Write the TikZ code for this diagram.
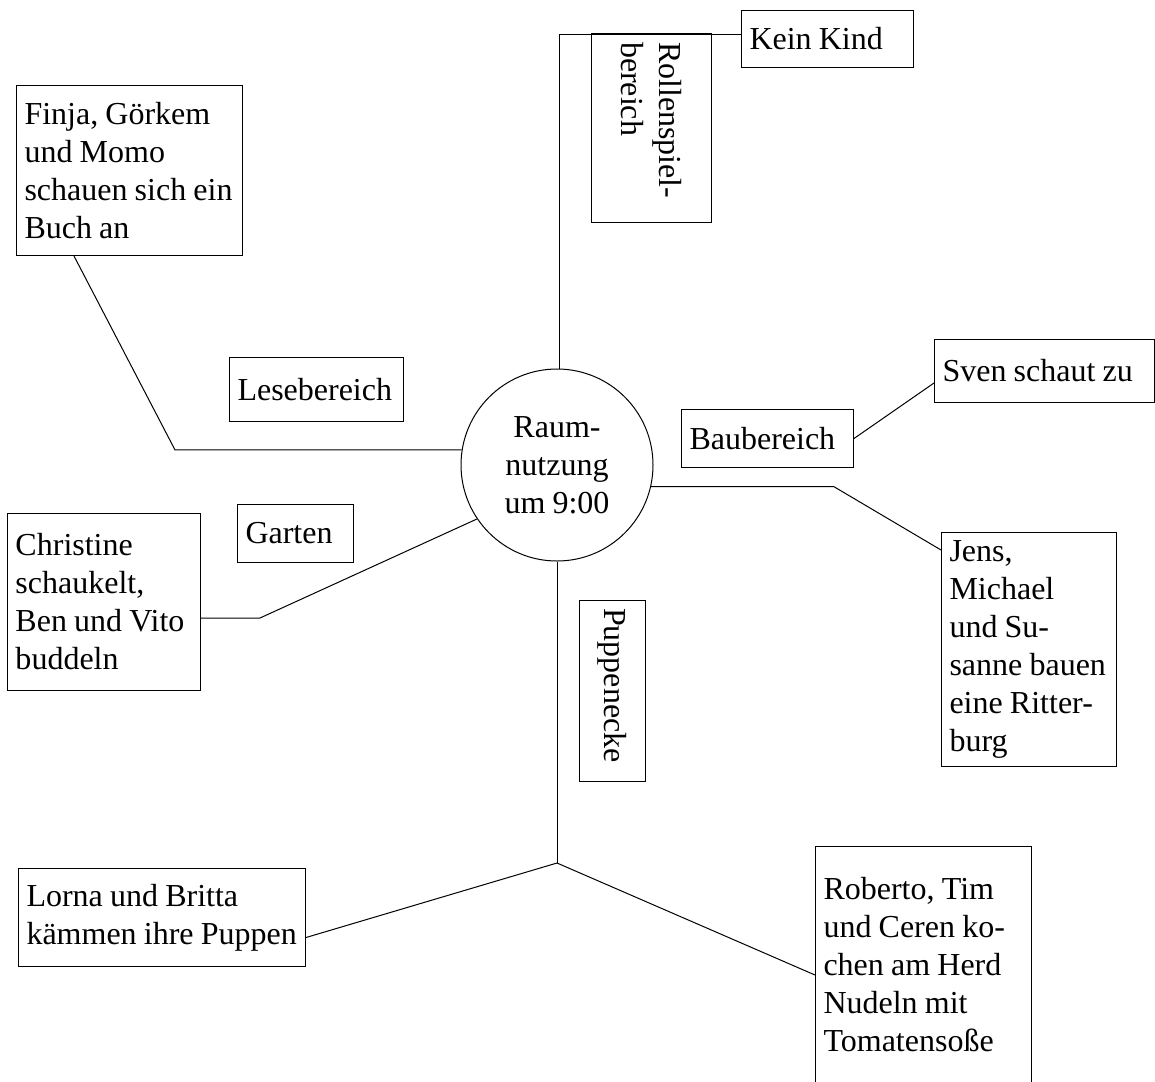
\documentclass[tikz,border=0pt]{standalone}
\usepackage{fontspec}
\setmainfont{Liberation Serif}
\newcommand{\ol}[1]{\mbox{#1}}
\newcommand{\narrowsp}{\spaceskip=7.2pt plus 2pt minus 1pt\relax}
\tikzset{
  txt/.style={font=\fontsize{32}{38}\selectfont, execute at begin node=\narrowsp},
  box/.style={txt, draw, line width=1pt, inner xsep=8pt, inner ysep=0pt, align=left, anchor=north west},
  rbox/.style={txt, draw, line width=1pt, inner xsep=8pt, inner ysep=0pt, align=left, rotate=-90},
  hub/.style={txt, draw, line width=1pt, circle, minimum size=192pt, inner sep=0pt, align=center},
  conn/.style={line width=1pt},
}
\begin{document}
\begin{tikzpicture}[x=1pt,y=-1pt]
\path[use as bounding box, fill=white] (0,0) rectangle (1155,1081);

\node[hub] (c) at (557,465) {Raum-\\nutzung\\um 9:00};

\node[box, text width=156pt, minimum height=57pt] (kk) at (741,10) {\ol{Kein Kind}};
\node[rbox, text width=172pt, minimum height=120pt] (rol) at (651,128) {\ol{Rollenspiel-}\\\ol{bereich}};
\node[box, text width=210pt, minimum height=170pt] (fin) at (16,85) {\ol{Finja, Görkem}\\\ol{und Momo}\\\ol{schauen sich ein}\\\ol{Buch an}};
\node[box, text width=158pt, minimum height=64pt] (les) at (229,357) {\ol{Lesebereich}};
\node[box, text width=156pt, minimum height=58pt] (bau) at (681,409) {\ol{Baubereich}};
\node[box, text width=204pt, minimum height=63pt] (sven) at (934,339) {\ol{Sven schaut zu}};
\node[box, text width=159pt, minimum height=234pt] (jens) at (941,532) {\ol{Jens,}\\\ol{Michael}\\\ol{und Su-}\\\ol{sanne bauen}\\\ol{eine Ritter-}\\\ol{burg}};
\node[box, text width=100pt, minimum height=58pt] (gar) at (237,504) {\ol{Garten}};
\node[box, text width=177pt, minimum height=177pt] (chr) at (7,513) {\ol{Christine}\\\ol{schaukelt,}\\\ol{Ben und Vito}\\\ol{buddeln}};
\node[rbox, text width=165pt, minimum height=66pt] (pup) at (612,690.5) {\ol{Puppenecke}};
\node[box, text width=271pt, minimum height=98pt] (lor) at (18,868) {\ol{Lorna und Britta}\\\ol{kämmen ihre Puppen}};
\node[box, text width=200pt, minimum height=237pt] (rob) at (815,846) {\ol{Roberto, Tim}\\\ol{und Ceren ko-}\\\ol{chen am Herd}\\\ol{Nudeln mit}\\\ol{Tomatensoße}};

\coordinate (kj) at (559,35);
\coordinate (fj) at (175,450);
\coordinate (gj) at (260,618);
\coordinate (jj) at (834,487);
\coordinate (pj) at (557,863);

\draw[conn] (c.north -| kj) -- (kj) -- (kj -| kk.west);
\draw[conn] ([xshift=58pt]fin.south west) -- (c.171 -| fj) -- (c.171);
\draw[conn] (gj -| chr.east) -- (gj) -- (c.214);
\draw[conn] (c.-13) -- (c.-13 -| jj) -- ([yshift=-18pt]jens.north west);
\draw[conn] (bau.east) -- ([yshift=-12pt]sven.west);
\draw[conn] (c.south) -- (pj);
\draw[conn] (pj) -- ([yshift=-20pt]lor.east);
\draw[conn] (pj) -- ([yshift=-10pt]rob.west);
\end{tikzpicture}
\end{document}
